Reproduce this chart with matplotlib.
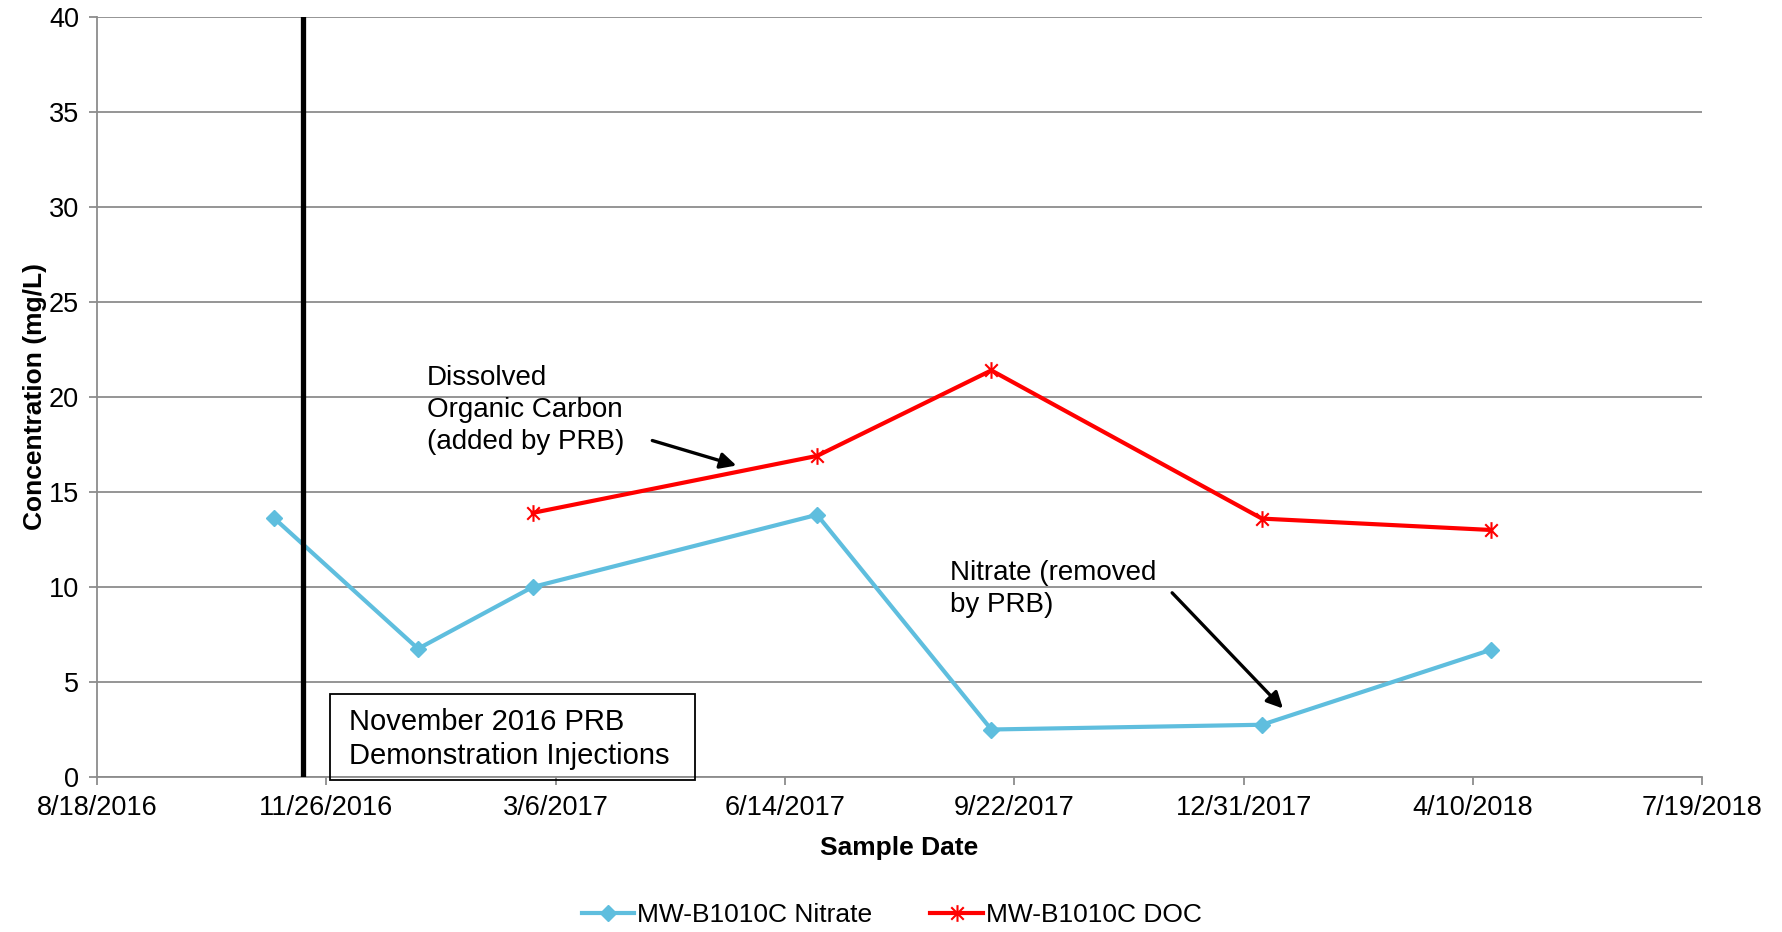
import datetime as dt
import matplotlib
matplotlib.use("Agg")
import matplotlib.pyplot as plt
import matplotlib.dates as mdates
from matplotlib.path import Path
from matplotlib.patches import Rectangle

plt.rcParams['font.family'] = ['Liberation Sans', 'DejaVu Sans']

# data
nitrate_dates = ["2016-11-03", "2017-01-05", "2017-02-24", "2017-06-28",
                 "2017-09-12", "2018-01-08", "2018-04-18"]
nitrate_vals = [13.65, 6.75, 10.0, 13.8, 2.5, 2.75, 6.7]

doc_dates = ["2017-02-24", "2017-06-28", "2017-09-12", "2018-01-08", "2018-04-18"]
doc_vals = [13.9, 16.9, 21.4, 13.6, 13.0]

injection_date = "2016-11-16"
x_start = "2016-08-18"
x_end = "2018-07-19"
y_ticks = [0, 5, 10, 15, 20, 25, 30, 35, 40]


def to_dt(s):
    return dt.datetime.strptime(s, "%Y-%m-%d")


nd = [to_dt(s) for s in nitrate_dates]
dd = [to_dt(s) for s in doc_dates]
x0, x1 = to_dt(x_start), to_dt(x_end)
x_ticks = [x0 + dt.timedelta(days=100 * k) for k in range(8)]

# Excel style asterisk: vertical bar plus an X
star = Path([(0, -1), (0, 1), (-0.75, -0.75), (0.75, 0.75), (-0.75, 0.75), (0.75, -0.75)],
            [Path.MOVETO, Path.LINETO, Path.MOVETO, Path.LINETO, Path.MOVETO, Path.LINETO])

fig = plt.figure(figsize=(17.83, 9.32), dpi=100)
ax = fig.add_axes([0.0544, 0.1663, 0.9003, 0.8155])

blue = "#5FBEDE"
red = "#FF0000"
grey = "#8C8C8C"

ax.plot(nd, nitrate_vals, color=blue, lw=3.0, marker="D", ms=8, mec=blue, mfc=blue,
        label="MW-B1010C Nitrate", zorder=3)
ax.plot(dd, doc_vals, color=red, lw=3.0, marker=star, ms=12, mec=red, mew=1.5,
        label="MW-B1010C DOC", zorder=3)

ax.axvline(to_dt(injection_date), color="black", lw=3.8, zorder=4)

ax.set_xlim(x0, x1)
ax.set_ylim(0, 40)
ax.set_xticks(x_ticks)
ax.xaxis.set_major_formatter(plt.FuncFormatter(
    lambda v, p: (lambda d: f"{d.month}/{d.day}/{d.year}")(mdates.num2date(v))))
ax.set_yticks(y_ticks)

ax.grid(axis="y", color=grey, lw=1.3)
ax.set_axisbelow(True)
for s in ["top", "right"]:
    ax.spines[s].set_visible(False)
for s in ["left", "bottom"]:
    ax.spines[s].set_color(grey)
    ax.spines[s].set_linewidth(1.3)
ax.tick_params(axis="both", colors=grey, length=6, width=1.3, labelsize=19.5,
               labelcolor="black", pad=7)

ax.set_xlabel("Sample Date", fontsize=19, fontweight="bold", labelpad=11)
ax.set_ylabel("Concentration (mg/L)", fontsize=19, fontweight="bold", labelpad=1)

# annotations
ax.annotate("", xy=(x0 + dt.timedelta(days=280), 16.35),
            xytext=(x0 + dt.timedelta(days=241), 17.75),
            arrowprops=dict(arrowstyle="-|>", color="black", lw=2.4, mutation_scale=24))
ax.text(x0 + dt.timedelta(days=144), 21.7, "Dissolved\nOrganic Carbon\n(added by PRB)",
        fontsize=20, va="top", ha="left", linespacing=1.3)

ax.annotate("", xy=(x0 + dt.timedelta(days=518), 3.5),
            xytext=(x0 + dt.timedelta(days=468), 9.8),
            arrowprops=dict(arrowstyle="-|>", color="black", lw=2.4, mutation_scale=24))
ax.text(x0 + dt.timedelta(days=372), 11.4, "Nitrate (removed\nby PRB)",
        fontsize=20, va="top", ha="left", linespacing=1.3)

bx0 = mdates.date2num(x0 + dt.timedelta(days=101.6))
bx1 = mdates.date2num(x0 + dt.timedelta(days=260.8))
ax.add_patch(Rectangle((bx0, -0.18), bx1 - bx0, 4.55, fill=False, ec="black",
                       lw=1.3, clip_on=False, zorder=5))
ax.text(x0 + dt.timedelta(days=110), 2.0, "November 2016 PRB\nDemonstration Injections",
        fontsize=21, va="center", ha="left", linespacing=1.25, zorder=6)

leg = fig.legend(loc="center", bbox_to_anchor=(0.5, 0.018), ncol=2, frameon=False,
                 fontsize=19, handlelength=2.0, columnspacing=2.2, handletextpad=0.1)

fig.savefig("out.png", dpi=100)
